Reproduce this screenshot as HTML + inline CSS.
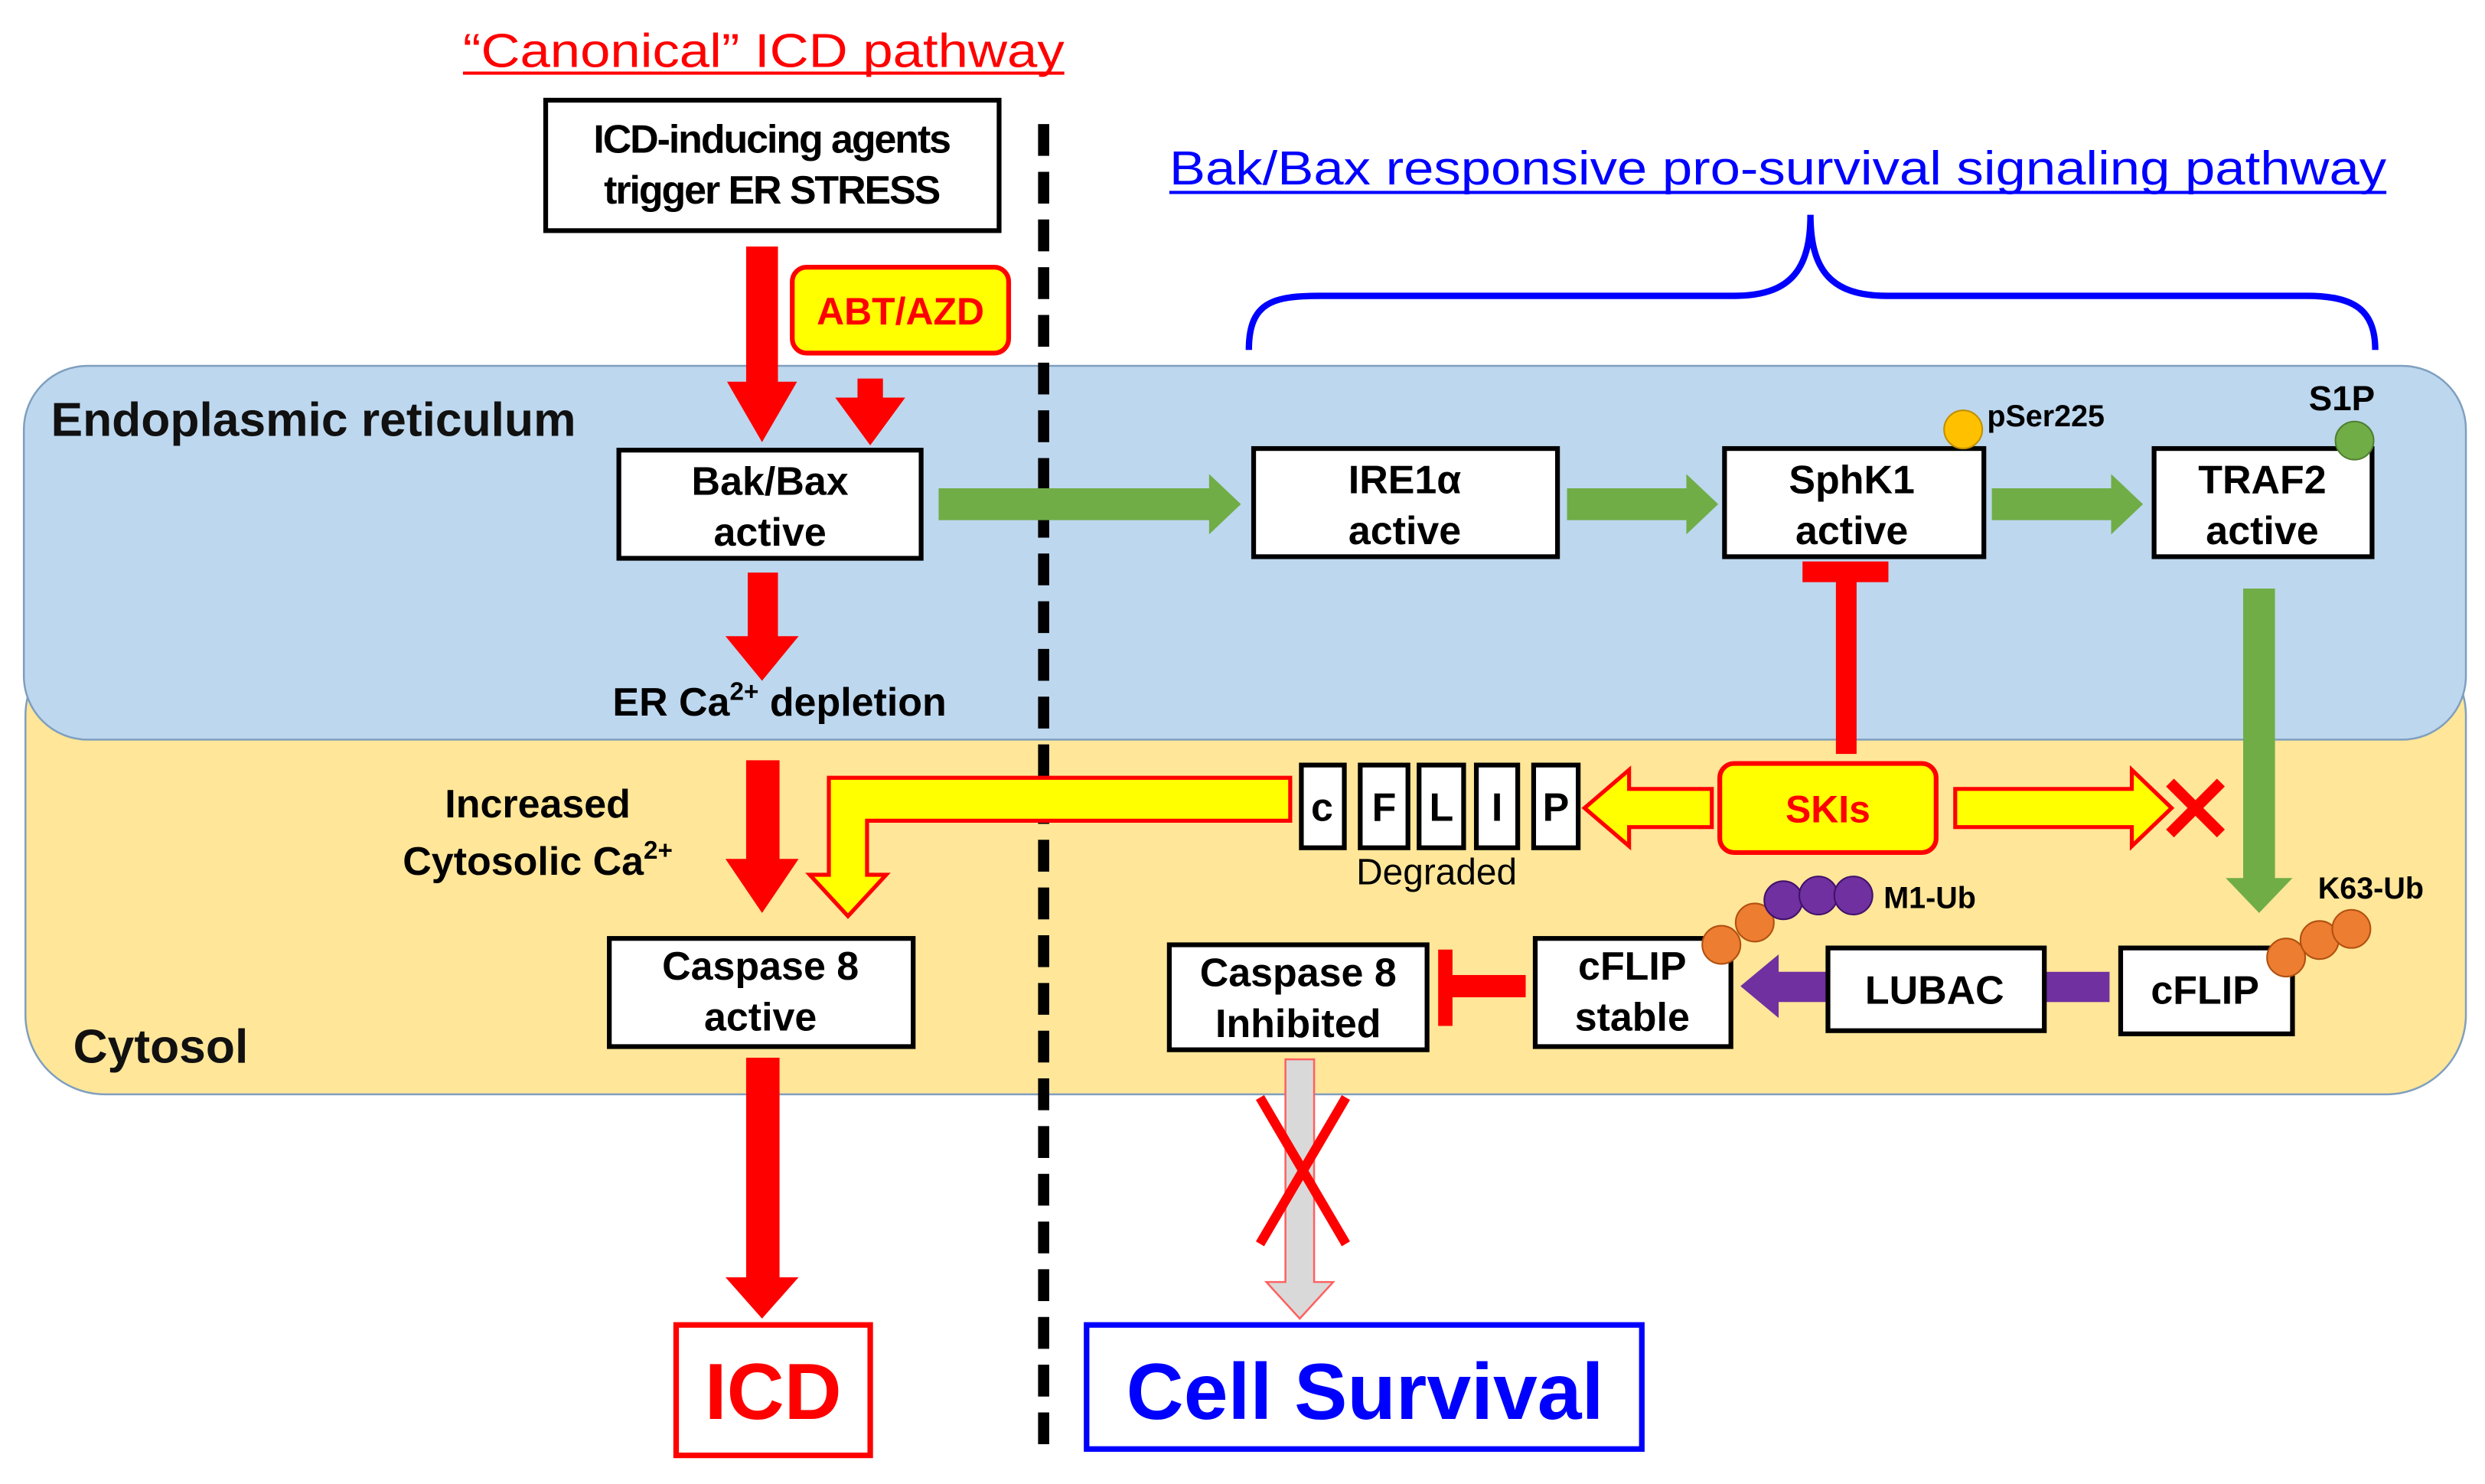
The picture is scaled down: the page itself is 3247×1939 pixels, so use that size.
<!DOCTYPE html>
<html><head><meta charset="utf-8"><style>
html,body{margin:0;padding:0;background:#fff}
svg{display:block}
text{font-family:"Liberation Sans",Arial,sans-serif}
</style></head><body>
<svg width="3247" height="1939" viewBox="0 0 1562 933" preserveAspectRatio="none" xmlns="http://www.w3.org/2000/svg">
<rect x="16" y="400" width="1534" height="288" rx="50" fill="#ffe699" stroke="#7f9fbf" stroke-width="1.2"/>
<rect x="15" y="230" width="1535" height="235" rx="40" fill="#bdd7ee" stroke="#7f9fbf" stroke-width="1.2"/>
<text x="32" y="274" font-size="30" font-weight="bold" fill="#111">Endoplasmic reticulum</text>
<text x="46" y="668" font-size="30" font-weight="bold" fill="#111">Cytosol</text>

<text x="291" y="42" font-size="30" fill="#ff0000" textLength="378" lengthAdjust="spacingAndGlyphs">“Canonical” ICD pathway</text>
<line x1="291" y1="46" x2="669" y2="46" stroke="#ff0000" stroke-width="2"/>
<text x="735" y="116" font-size="30" fill="#0000ff" textLength="765" lengthAdjust="spacingAndGlyphs">Bak/Bax responsive pro-survival signaling pathway</text>
<line x1="735" y1="121" x2="1500" y2="121" stroke="#0000ff" stroke-width="2"/>
<path d="M785,220 C785,190 800,186 830,186 L1090,186 C1125,186 1138,170 1138,135 C1138,170 1151,186 1186,186 L1450,186 C1480,186 1493,195 1493,220" fill="none" stroke="#0000ff" stroke-width="4"/>

<line x1="656" y1="78" x2="656" y2="916" stroke="#000" stroke-width="7" stroke-dasharray="20,10"/>

<g fill="#ff0000">
<polygon points="469,155 489,155 489,240 501,240 479,278 457,240 469,240"/>
<polygon points="539,238 555,238 555,250 569,250 547,280 525,250 539,250"/>
<polygon points="470,360 489,360 489,400 502,400 479,428 456,400 470,400"/>
<polygon points="469,478 490,478 490,540 502,540 479,574 456,540 469,540"/>
<polygon points="469,665 490,665 490,803 502,803 479,829 456,803 469,803"/>
<rect x="1154" y="362" width="13" height="112"/>
<rect x="1133" y="353" width="54" height="13"/>
<rect x="912" y="613" width="47" height="14"/>
<rect x="904" y="597" width="9" height="48"/>
</g>

<g fill="#70ad47">
<polygon points="590,307 760,307 760,298 780,317 760,336 760,327 590,327"/>
<polygon points="985,307 1060,307 1060,298 1080,317 1060,336 1060,327 985,327"/>
<polygon points="1252,307 1327,307 1327,298 1347,317 1327,336 1327,327 1252,327"/>
<polygon points="1410,370 1430,370 1430,552 1441,552 1420,574 1399,552 1410,552"/>
</g>

<g fill="#7030a0">
<polygon points="1148,611 1118,611 1118,600 1094,620 1118,640 1118,630 1148,630"/>
<rect x="1286" y="611" width="40" height="19"/>
</g>

<g fill="#ffff00" stroke="#ff0000" stroke-width="2.5" stroke-linejoin="miter">
<polygon points="811,489 811,516 545,516 545,550 557,550 533,576 509,550 521,550 521,489"/>
<polygon points="1076,496 1024,496 1024,484 996,508 1024,532 1024,520 1076,520"/>
<polygon points="1229,496 1340,496 1340,484 1365,508 1340,532 1340,520 1229,520"/>
</g>
<g stroke="#ff0000" stroke-width="7"><line x1="1364" y1="492" x2="1396" y2="524"/><line x1="1396" y1="492" x2="1364" y2="524"/></g>

<polygon points="808,666 826,666 826,806 838,806 817,829 796,806 808,806" fill="#d9d9d9" stroke="#ff6060" stroke-width="1.2"/>
<g stroke="#ff0000" stroke-width="6"><line x1="792" y1="690" x2="846" y2="782"/><line x1="846" y1="690" x2="792" y2="782"/></g>

<g fill="#fff" stroke="#000" stroke-width="3">
<rect x="343" y="63" width="285" height="82"/>
<rect x="389" y="283" width="190" height="68"/>
<rect x="788" y="282" width="191" height="68"/>
<rect x="1084" y="282" width="163" height="68"/>
<rect x="1354" y="282" width="137" height="68"/>
<rect x="383" y="590" width="191" height="68"/>
<rect x="735" y="594" width="162" height="66"/>
<rect x="965" y="590" width="123" height="68"/>
<rect x="1149" y="596" width="136" height="52"/>
<rect x="1333" y="596" width="108" height="54"/>
<rect x="818" y="481" width="27" height="52"/>
<rect x="855" y="481" width="30" height="52"/>
<rect x="892" y="481" width="28" height="52"/>
<rect x="928" y="481" width="26" height="52"/>
<rect x="964" y="481" width="28" height="52"/>
</g>
<rect x="498" y="168" width="136" height="54" rx="9" fill="#ffff00" stroke="#ff0000" stroke-width="3"/>
<rect x="1081" y="480" width="136" height="56" rx="9" fill="#ffff00" stroke="#ff0000" stroke-width="3"/>
<rect x="425" y="833" width="122" height="82" fill="#fff" stroke="#ff0000" stroke-width="3.5"/>
<rect x="683" y="833" width="349" height="78" fill="#fff" stroke="#0000ff" stroke-width="3.5"/>

<circle cx="1234" cy="270" r="12" fill="#ffc000" stroke="#c09000"/>
<circle cx="1480" cy="277" r="12" fill="#70ad47" stroke="#4f7f30"/>
<g fill="#ed7d31" stroke="#b05010">
<circle cx="1082" cy="594" r="12"/><circle cx="1103" cy="580" r="12"/>
<circle cx="1437" cy="602" r="12"/><circle cx="1458" cy="591" r="12"/><circle cx="1478" cy="584" r="12"/>
</g>
<g fill="#7030a0" stroke="#40106a">
<circle cx="1121" cy="566" r="12"/><circle cx="1143" cy="563" r="12"/><circle cx="1165" cy="563" r="12"/>
</g>

<g font-weight="bold" font-size="25" fill="#000" text-anchor="middle">
<text x="485" y="96" letter-spacing="-1">ICD-inducing agents</text>
<text x="485" y="128" letter-spacing="-1">trigger ER STRESS</text>
<text x="484" y="311">Bak/Bax</text><text x="484" y="343">active</text>
<text x="883" y="310">IRE1α</text><text x="883" y="342">active</text>
<text x="1164" y="310">SphK1</text><text x="1164" y="342">active</text>
<text x="1422" y="310">TRAF2</text><text x="1422" y="342">active</text>
<text x="478" y="616">Caspase 8</text><text x="478" y="648">active</text>
<text x="816" y="620">Caspase 8</text><text x="816" y="652">Inhibited</text>
<text x="1026" y="616">cFLIP</text><text x="1026" y="648">stable</text>
<text x="1216" y="631">LUBAC</text>
<text x="1386" y="631">cFLIP</text>
<text x="831" y="516">c</text><text x="870" y="516">F</text><text x="906" y="516">L</text><text x="941" y="516">I</text><text x="978" y="516">P</text>
<text x="338" y="514">Increased</text>
<text x="490" y="450">ER Ca<tspan font-size="16" dy="-10">2+</tspan><tspan dy="10"> depletion</tspan></text>
<text x="338" y="550">Cytosolic  Ca<tspan font-size="16" dy="-10">2+</tspan></text>
<text x="566" y="204" fill="#ff0000" font-size="24">ABT/AZD</text>
<text x="1149" y="517" fill="#ff0000" font-size="24">SKIs</text>
<text x="1472" y="258" font-size="22">S1P</text>
<text x="486" y="892" font-size="50" fill="#ff0000">ICD</text>
<text x="858" y="892" font-size="50" fill="#0000ff">Cell Survival</text>
</g>
<text x="903" y="556" font-size="23" text-anchor="middle" fill="#000">Degraded</text>
<g font-weight="bold" font-size="19" fill="#000">
<text x="1249" y="268">pSer225</text>
<text x="1184" y="571">M1-Ub</text>
<text x="1457" y="565">K63-Ub</text>
</g>
</svg>
</body></html>
